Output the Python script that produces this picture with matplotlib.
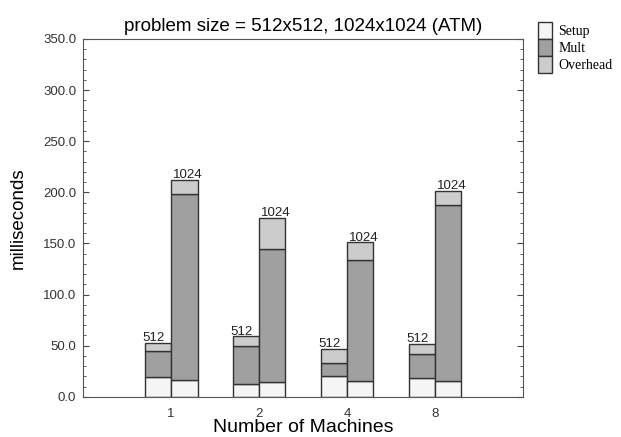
import matplotlib
matplotlib.use("Agg")
import matplotlib.pyplot as plt
import numpy as np
from matplotlib.ticker import MultipleLocator, FormatStrFormatter
from matplotlib.patches import Patch

machines = ["1", "2", "4", "8"]

# values (ms)
setup_512 = [19.0, 12.7, 20.0, 18.0]
mult_512 = [26.0, 37.3, 13.0, 23.8]
over_512 = [8.0, 9.0, 13.8, 10.3]

setup_1024 = [16.0, 14.7, 15.0, 15.3]
mult_1024 = [182.0, 129.7, 119.0, 172.0]
over_1024 = [14.2, 30.8, 17.2, 14.0]

plt.rcParams['font.family'] = ['Liberation Sans', 'DejaVu Sans']

fig = plt.figure(figsize=(6.21, 4.37), dpi=100)
ax = fig.add_axes([0.134, 0.092, 0.708, 0.819])

c_setup = "#f5f5f5"
c_mult = "#a0a0a0"
c_over = "#cccccc"
edge = "#333333"
w = 0.3

x = np.arange(1, len(machines) + 1)
x512 = x - w / 2
x1024 = x + w / 2

for xs, s, m, o, lab, dx in [(x512, setup_512, mult_512, over_512, "512", -0.05),
                             (x1024, setup_1024, mult_1024, over_1024, "1024", 0.04)]:
    s = np.array(s)
    m = np.array(m)
    o = np.array(o)
    ax.bar(xs, s, w, color=c_setup, edgecolor=edge, linewidth=1)
    ax.bar(xs, m, w, bottom=s, color=c_mult, edgecolor=edge, linewidth=1)
    ax.bar(xs, o, w, bottom=s + m, color=c_over, edgecolor=edge, linewidth=1)
    for xi, top in zip(xs, s + m + o):
        ax.text(xi + dx, top - 1.5, lab, ha="center", va="bottom",
                fontsize=9.5, color="#222222")

ax.set_xlim(0, 5)
ax.set_ylim(0, 350)
ax.set_xticks(x)
ax.set_xticklabels(machines)
ax.yaxis.set_major_locator(MultipleLocator(50))
ax.yaxis.set_minor_locator(MultipleLocator(10))
ax.yaxis.set_major_formatter(FormatStrFormatter("%.1f"))
ax.tick_params(axis="x", length=0, pad=8, labelsize=9.5, labelcolor="#333333")
ax.tick_params(axis="y", which="both", direction="in", right=True,
               labelsize=9.5, labelcolor="#333333", color="#444444", pad=5)
ax.tick_params(axis="y", which="major", length=4)
ax.tick_params(axis="y", which="minor", length=2)
for sp in ax.spines.values():
    sp.set_color("#555555")

ax.set_title("problem size = 512x512, 1024x1024 (ATM)", fontsize=13.5, pad=6)
ax.set_xlabel("Number of Machines", fontsize=14, labelpad=-1)
ax.set_ylabel("milliseconds", fontsize=13.5, labelpad=12)

handles = [Patch(facecolor=c_setup, edgecolor=edge),
           Patch(facecolor=c_mult, edgecolor=edge),
           Patch(facecolor=c_over, edgecolor=edge)]
fig.legend(handles, ["Setup", "Mult", "Overhead"], loc="upper left",
           bbox_to_anchor=(0.866, 0.95), frameon=False,
           prop={"family": "Liberation Serif", "size": 10},
           handlelength=1.05, handleheight=1.5, labelspacing=0,
           handletextpad=0.45, borderpad=0, borderaxespad=0)

fig.savefig("out.png", dpi=100)
